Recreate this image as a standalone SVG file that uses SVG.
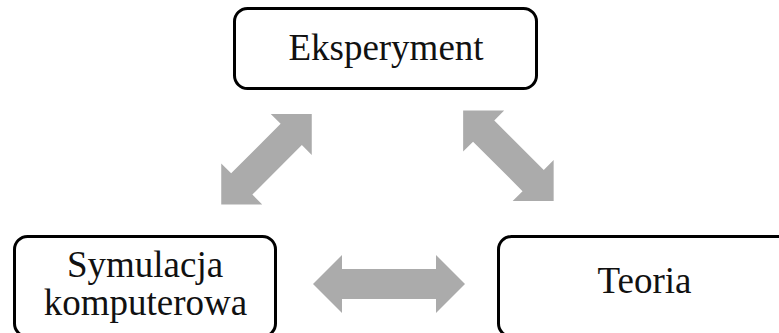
<svg xmlns="http://www.w3.org/2000/svg" width="779" height="333" viewBox="0 0 779 333">
  <style>
    .box { fill: #ffffff; stroke: #000000; stroke-width: 3; }
    .label { font-family: "Liberation Serif", "Times New Roman", serif; font-size: 37px; fill: #111111; text-anchor: middle; }
    .arrow { fill: #ababab; }
  </style>
  <rect width="779" height="333" fill="#ffffff"/>

  <g id="connectors">
    <!-- Eksperyment <-> Symulacja komputerowa -->
    <polygon class="arrow" transform="translate(266.5,159.2) rotate(-45)"
      points="-64,0 -35,-29 -35,-15 35,-15 35,-29 64,0 35,29 35,15 -35,15 -35,29"/>
    <!-- Eksperyment <-> Teoria -->
    <polygon class="arrow" transform="translate(508.4,155.8) rotate(45)"
      points="-64,0 -35,-29 -35,-15 35,-15 35,-29 64,0 35,29 35,15 -35,15 -35,29"/>
    <!-- Symulacja komputerowa <-> Teoria -->
    <polygon class="arrow" transform="translate(389,284)"
      points="-76,0 -47,-29 -47,-15 47,-15 47,-29 76,0 47,29 47,15 -47,15 -47,29"/>
  </g>

  <g id="node-eksperyment">
    <rect class="box" x="234.5" y="8.5" width="302" height="80" rx="13" ry="13"/>
    <text class="label" x="386" y="60">Eksperyment</text>
  </g>

  <g id="node-symulacja">
    <rect class="box" x="14.5" y="236.5" width="261" height="100" rx="13" ry="13"/>
    <text class="label" x="145" y="277">Symulacja</text>
    <text class="label" x="145.5" y="315">komputerowa</text>
  </g>

  <g id="node-teoria">
    <rect class="box" x="498.5" y="236.5" width="300" height="100" rx="13" ry="13"/>
    <text class="label" x="644.5" y="293">Teoria</text>
  </g>
</svg>
